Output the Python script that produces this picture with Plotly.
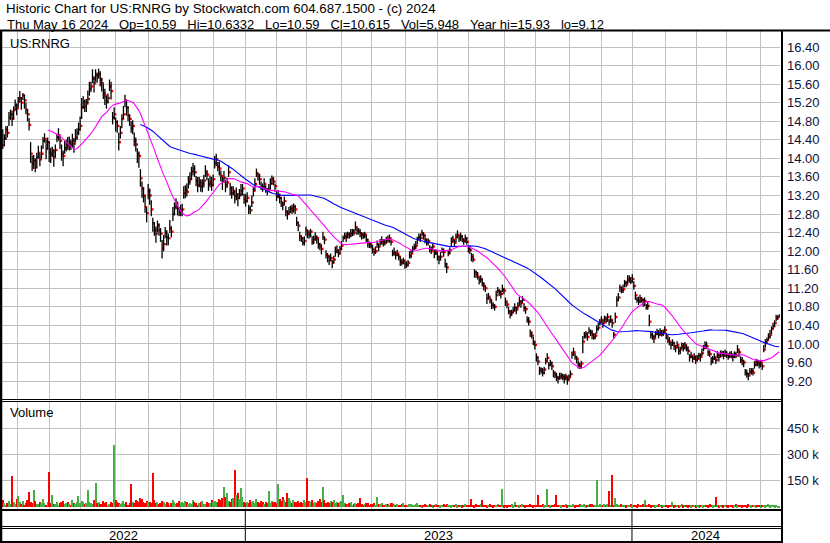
import pandas as pd
import plotly.graph_objects as go

# ---------------- data (daily bars, 17 May 2022 - 16 May 2024) ----------------
close_2022 = [
    14.28, 14.42, 14.62, 14.55, 14.88, 14.95, 14.85, 15.04, 15.15, 15.08,
    15.22, 15.30, 15.20, 15.36, 15.25, 15.05, 14.95, 14.72, 14.10, 13.88, 13.95, 13.80, 14.02, 14.12, 13.98, 14.10, 14.38, 14.42, 14.20, 14.35, 14.12,
    14.08, 14.15, 14.02, 14.18, 14.45, 14.50, 14.38, 14.10, 14.05, 14.22, 14.30, 14.28, 14.35, 14.30, 14.38, 14.32, 14.45, 14.55, 14.62, 14.70,
    15.10, 15.22, 15.12, 15.18, 15.28, 15.50, 15.55, 15.72, 15.62, 15.80, 15.75, 15.82, 15.70, 15.62, 15.40, 15.35, 15.22, 15.30, 15.55, 15.45, 14.88, 14.95, 14.78,
    14.70, 14.35, 14.55, 14.85, 14.95, 15.25, 15.10, 14.92, 14.85, 14.65, 14.70, 14.38, 14.30, 14.10, 14.05, 13.57, 13.35, 13.20, 12.95, 12.82, 13.30,
    13.20, 12.90, 12.60, 12.45, 12.38, 12.56, 12.45, 12.38, 12.06, 12.15, 12.40, 12.30, 12.28, 12.49, 12.42, 12.80, 12.95, 13.02, 12.92, 12.85, 12.88,
    12.90, 13.25, 13.32, 13.28, 13.50, 13.55, 13.72, 13.78, 13.70, 13.52, 13.42, 13.48, 13.40, 13.45, 13.52, 13.70, 13.65, 13.45, 13.48, 13.42, 13.55,
    13.90, 13.98, 13.82, 13.78, 13.62, 13.50, 13.58, 13.42, 13.48, 13.70, 13.35, 13.25, 13.30, 13.18, 13.22, 13.15, 13.22, 13.30, 13.35, 13.12, 13.08,
]
close_2023 = [
    13.15, 12.92, 12.88, 13.05, 13.30, 13.45, 13.68, 13.62, 13.55, 13.40, 13.38, 13.45, 13.32, 13.30, 13.35, 13.45, 13.55, 13.50, 13.40, 13.18,
    13.22, 13.15, 13.05, 13.00, 13.08, 12.85, 12.80, 12.85, 12.92, 12.88, 12.95, 12.90, 12.62, 12.55, 12.32, 12.28, 12.18, 12.22, 12.45,
    12.38, 12.35, 12.42, 12.20, 12.25, 12.31, 12.28, 12.15, 12.10, 12.05, 12.30, 12.25, 11.92, 11.88, 11.80, 11.85, 11.75, 11.82, 11.98, 12.02, 11.95, 12.05, 12.12,
    12.28, 12.32, 12.30, 12.36, 12.33, 12.38, 12.42, 12.40, 12.52, 12.45, 12.42, 12.38, 12.35, 12.32, 12.36, 12.25, 12.18, 12.15, 12.12,
    12.05, 11.98, 12.00, 12.15, 12.10, 12.18, 12.22, 12.20, 12.18, 12.25, 12.24, 12.28, 12.20, 11.95, 11.98, 11.92, 11.95, 11.88, 11.78, 11.75, 11.80, 11.72,
    11.70, 11.75, 11.90, 11.95, 12.05, 12.08, 12.12, 12.25, 12.30, 12.28, 12.38, 12.35, 12.25, 12.18, 12.22, 12.05, 12.00, 12.10, 11.95, 11.98, 11.88,
    11.82, 11.88, 12.02, 11.98, 11.72, 11.65, 11.95, 12.02, 12.20, 12.25, 12.18, 12.30, 12.35, 12.28, 12.32, 12.25, 12.22, 12.28, 12.20, 12.05,
    12.02, 11.88, 11.82, 11.55, 11.50, 11.45, 11.38, 11.40, 11.30, 11.25, 11.20, 10.98, 11.02, 10.95, 10.85, 10.82, 10.80, 11.05, 11.15, 11.12, 11.08, 11.18, 11.15,
    10.92, 10.85, 10.70, 10.65, 10.68, 10.72, 10.78, 10.74, 10.82, 10.92, 10.88, 10.95, 10.78, 10.75, 10.52, 10.48, 10.25, 10.18, 10.05, 9.98,
    9.72, 9.62, 9.45, 9.42, 9.38, 9.45, 9.62, 9.70, 9.55, 9.58, 9.52, 9.38, 9.32, 9.28, 9.25, 9.30, 9.32, 9.28, 9.25, 9.30, 9.22, 9.28,
    9.35, 9.78, 9.82, 9.72, 9.68, 9.55, 9.52, 9.58, 10.05, 10.18, 10.22, 10.15, 10.28, 10.25, 10.20, 10.15, 10.18, 10.32, 10.35, 10.48, 10.52,
    10.45, 10.55, 10.50, 10.58, 10.48, 10.52, 10.45, 10.20, 10.58, 10.95, 11.00, 11.22, 11.15, 11.18, 11.32, 11.28, 11.38, 11.42, 11.35, 11.40,
]
close_2024 = [
    11.25, 11.05, 10.95, 10.92, 10.98, 10.95, 10.88, 10.92, 10.80, 10.82, 10.48, 10.20, 10.15, 10.12, 10.22, 10.25, 10.20, 10.28, 10.22, 10.25, 10.30,
    10.18, 10.08, 10.05, 9.98, 10.02, 9.95, 9.92, 9.98, 9.85, 9.88, 9.95, 9.92, 9.98, 9.90, 9.85, 9.72, 9.75, 9.68, 9.72, 9.65,
    9.68, 9.75, 9.72, 9.80, 9.92, 9.98, 9.95, 9.82, 9.78, 9.62, 9.68, 9.72, 9.65, 9.75, 9.72, 9.80, 9.78, 9.75, 9.82, 9.76,
    9.72, 9.78, 9.75, 9.72, 9.78, 9.75, 9.88, 9.82, 9.65, 9.62, 9.60, 9.38, 9.35, 9.32, 9.40, 9.42, 9.38, 9.55, 9.62, 9.58, 9.55, 9.60,
    9.52, 9.88, 10.02, 10.08, 10.15, 10.20, 10.32, 10.38, 10.45, 10.55, 10.58, 10.615,
]

# daily high above close, in cents
high_above_2022 = [
    35, 10, 8, 15, 12, 10, 18, 8, 12, 10,
    10, 15, 12, 5, 12, 15, 10, 15, 25, 18, 12, 20, 10, 15, 12, 18, 8, 12, 20, 10, 25,
    15, 10, 18, 12, 8, 15, 10, 20, 12, 15, 10, 18, 12, 10, 15, 12, 18, 10, 15, 20,
    20, 12, 15, 10, 18, 15, 10, 20, 15, 12, 10, 11, 18, 12, 20, 15, 12, 10, 15, 20, 12, 15, 10,
    12, 20, 15, 10, 18, 12, 15, 20, 10, 15, 12, 18, 15, 12, 10, 20, 15, 18, 25, 12, 15,
    15, 20, 12, 18, 15, 10, 15, 12, 18, 20, 12, 15, 10, 18, 12, 15, 10, 12, 15, 10, 12,
    12, 15, 10, 18, 12, 15, 10, 12, 15, 10, 18, 12, 15, 10, 12, 15, 10, 12, 15, 18, 10,
    15, 12, 10, 15, 12, 10, 15, 12, 10, 15, 12, 15, 10, 12, 15, 10, 12, 15, 10, 12, 15,
]
high_above_2023 = [
    12, 8, 10, 15, 8, 12, 10, 6, 12, 10, 8, 12, 10, 6, 10, 12, 8, 10, 6, 12,
    10, 8, 12, 6, 10, 12, 8, 10, 6, 12, 8, 10, 12, 8, 10, 6, 12, 10, 8,
    8, 10, 6, 12, 8, 10, 6, 12, 8, 10, 12, 6, 10, 8, 12, 10, 6, 8, 12, 10, 8, 6, 10,
    6, 8, 10, 6, 8, 10, 6, 8, 12, 6, 8, 10, 6, 8, 6, 10, 8, 6, 8,
    8, 6, 10, 8, 6, 8, 10, 6, 8, 6, 10, 8, 6, 8, 10, 6, 8, 6, 10, 8, 6, 8,
    8, 6, 10, 8, 6, 8, 10, 6, 8, 10, 8, 6, 10, 8, 6, 8, 10, 6, 8, 6, 10,
    8, 10, 6, 8, 12, 10, 8, 6, 10, 8, 6, 8, 10, 6, 8, 10, 6, 8, 10, 8,
    10, 8, 12, 6, 8, 10, 6, 8, 10, 8, 6, 10, 8, 6, 10, 8, 6, 10, 8, 6, 8, 10, 6,
    8, 6, 10, 8, 6, 8, 10, 6, 8, 10, 6, 8, 10, 6, 8, 10, 6, 8, 10, 8,
    8, 10, 6, 8, 10, 6, 8, 10, 6, 8, 10, 6, 8, 10, 6, 8, 6, 8, 10, 6, 8, 6,
    8, 6, 10, 8, 6, 10, 8, 6, 12, 8, 6, 10, 8, 6, 10, 8, 6, 8, 10, 6, 8,
    8, 6, 10, 8, 6, 10, 8, 6, 10, 8, 10, 6, 8, 10, 6, 8, 10, 6, 8, 10,
]
high_above_2024 = [
    10, 8, 6, 10, 8, 6, 10, 8, 6, 10, 15, 6, 10, 8, 6, 8, 10, 6, 8, 6, 8,
    6, 8, 10, 6, 8, 10, 6, 8, 10, 6, 8, 10, 6, 8, 10, 6, 8, 6, 8, 10,
    8, 6, 8, 10, 6, 8, 10, 6, 8, 10, 6, 8, 6, 10, 8, 6, 8, 10, 6, 8,
    8, 6, 10, 8, 6, 8, 10, 6, 8, 10, 6, 8, 10, 6, 8, 6, 10, 8, 6, 8, 10, 6,
    6, 10, 8, 6, 8, 10, 6, 8, 6, 8, 4, 1.8,
]
# daily low below close, in cents
low_below_2022 = [
    8, 15, 22, 10, 18, 12, 15, 20, 10, 15,
    12, 8, 15, 10, 18, 10, 15, 12, 20, 15, 18, 10, 22, 12, 15, 10, 18, 8, 22, 15, 20,
    18, 12, 20, 15, 10, 12, 18, 15, 22, 12, 15, 10, 18, 12, 15, 20, 10, 15, 12, 10,
    25, 15, 12, 18, 10, 15, 12, 10, 20, 15, 12, 10, 15, 18, 12, 20, 15, 12, 10, 18, 15, 12, 20,
    15, 18, 12, 20, 10, 15, 18, 12, 15, 10, 18, 12, 15, 20, 25, 18, 20, 15, 12, 20, 18,
    20, 15, 18, 12, 20, 15, 12, 18, 22, 15, 12, 18, 15, 10, 12, 15, 18, 12, 15, 10, 12,
    15, 12, 18, 10, 15, 12, 18, 15, 10, 12, 15, 10, 12, 18, 15, 10, 12, 15, 10, 12, 15,
    12, 15, 10, 15, 12, 18, 10, 15, 12, 10, 15, 12, 10, 15, 12, 18, 10, 12, 15, 10, 12,
]
low_below_2023 = [
    10, 12, 8, 10, 12, 15, 8, 10, 12, 8, 10, 12, 6, 10, 8, 12, 10, 8, 12, 10,
    8, 12, 10, 12, 8, 10, 12, 6, 10, 8, 12, 10, 8, 12, 10, 8, 6, 10, 12,
    10, 8, 12, 6, 10, 8, 12, 10, 8, 12, 6, 10, 8, 12, 10, 6, 12, 8, 10, 6, 8, 12, 10,
    8, 6, 10, 8, 6, 8, 10, 6, 8, 10, 6, 8, 10, 6, 8, 6, 10, 8, 6,
    10, 8, 6, 8, 10, 6, 8, 10, 6, 8, 6, 10, 8, 6, 8, 10, 6, 8, 10, 6, 8, 10,
    6, 8, 6, 10, 8, 6, 8, 10, 6, 8, 6, 10, 8, 6, 10, 8, 6, 8, 10, 6, 8,
    10, 8, 6, 10, 8, 12, 6, 8, 10, 6, 8, 10, 6, 8, 10, 6, 8, 10, 6, 8,
    8, 10, 6, 12, 8, 6, 10, 8, 6, 10, 8, 12, 6, 8, 10, 6, 8, 12, 6, 8, 10, 6, 8,
    10, 8, 6, 10, 8, 6, 8, 10, 6, 8, 10, 6, 8, 10, 6, 8, 10, 6, 8, 10,
    10, 8, 12, 6, 8, 10, 6, 8, 10, 6, 8, 10, 6, 8, 10, 6, 8, 6, 10, 8, 10, 6,
    6, 10, 8, 6, 10, 8, 6, 10, 25, 6, 10, 8, 6, 8, 10, 6, 8, 10, 6, 8, 6,
    10, 8, 6, 10, 8, 6, 10, 8, 12, 15, 8, 10, 6, 8, 10, 6, 8, 10, 6, 8,
]
low_below_2024 = [
    8, 10, 6, 8, 10, 6, 8, 10, 6, 8, 10, 8, 6, 10, 8, 6, 8, 10, 6, 8, 6,
    8, 6, 8, 10, 6, 8, 10, 6, 8, 10, 6, 8, 10, 6, 8, 10, 6, 8, 6, 8,
    6, 8, 10, 6, 8, 10, 6, 8, 6, 8, 10, 6, 8, 6, 10, 8, 6, 8, 10, 6,
    6, 8, 6, 10, 8, 6, 8, 10, 6, 8, 10, 6, 8, 10, 6, 8, 6, 8, 10, 6, 8, 10,
    8, 6, 10, 8, 6, 8, 10, 6, 8, 6, 6, 2.5,
]
# daily volume, thousands of shares
volume_2022 = [
    40, 22, 15, 25, 35, 18, 177, 30, 20, 45,
    63, 28, 20, 35, 15, 25, 40, 87, 30, 22, 100, 35, 20, 18, 30, 25, 45, 22, 15, 30, 200,
    25, 70, 18, 20, 30, 15, 22, 28, 35, 18, 25, 30, 20, 15, 40, 22, 18, 30, 63, 25,
    35, 28, 20, 25, 100, 30, 22, 18, 40, 137, 25, 30, 20, 18, 35, 22, 28, 15, 20, 30, 25, 353, 40,
    30, 22, 18, 25, 35, 20, 28, 15, 22, 131, 30, 25, 40, 35, 28, 50, 45, 30, 22, 35, 28,
    30, 25, 193, 40, 22, 30, 18, 25, 35, 28, 20, 30, 22, 15, 25, 40, 30, 18, 22, 35, 25,
    28, 22, 35, 30, 18, 25, 20, 40, 30, 22, 15, 25, 28, 35, 20, 18, 30, 22, 25, 40, 30,
    35, 28, 30, 45, 40, 50, 115, 60, 80, 35, 30, 45, 55, 211, 70, 80, 45, 110, 60, 30, 25,
]
volume_2023 = [
    30, 25, 40, 28, 35, 22, 45, 30, 25, 38, 28, 20, 30, 25, 95, 22, 35, 28, 30, 22,
    130, 45, 35, 60, 40, 30, 80, 50, 35, 25, 40, 30, 28, 35, 22, 30, 25, 40, 28,
    167, 35, 28, 40, 25, 30, 22, 35, 45, 30, 115, 40, 25, 30, 22, 35, 28, 40, 25, 30, 22, 28, 35,
    70, 25, 20, 18, 22, 30, 15, 20, 25, 18, 22, 50, 20, 15, 18, 22, 25, 15, 20,
    18, 22, 15, 60, 20, 18, 25, 15, 12, 20, 18, 15, 22, 25, 18, 15, 20, 12, 15, 18, 22, 15,
    15, 12, 18, 20, 15, 12, 18, 22, 15, 12, 10, 15, 18, 12, 15, 20, 12, 10, 15, 18, 12,
    12, 10, 15, 18, 12, 20, 15, 12, 10, 15, 12, 18, 10, 12, 15, 10, 12, 18, 15, 12,
    15, 47, 12, 10, 18, 15, 12, 20, 40, 15, 12, 10, 15, 18, 12, 10, 15, 12, 20, 15, 12, 103, 10,
    12, 10, 15, 12, 18, 10, 30, 12, 15, 10, 12, 18, 15, 10, 12, 15, 20, 12, 10, 15,
    12, 70, 15, 12, 18, 10, 15, 105, 12, 10, 15, 12, 18, 70, 15, 12, 10, 15, 12, 18, 10, 12,
    15, 12, 18, 10, 15, 12, 20, 15, 12, 18, 10, 15, 12, 18, 20, 15, 12, 154, 15, 20, 12,
    15, 18, 12, 20, 95, 15, 182, 12, 50, 18, 15, 12, 20, 15, 12, 10, 15, 12, 18, 10,
]
volume_2024 = [
    12, 15, 10, 18, 12, 15, 20, 40, 12, 15, 18, 10, 12, 15, 10, 12, 18, 15, 10, 12, 15,
    12, 10, 15, 12, 30, 10, 12, 15, 10, 12, 18, 10, 12, 15, 10, 12, 10, 15, 12, 10,
    12, 10, 15, 12, 10, 15, 12, 10, 18, 12, 10, 15, 60, 12, 10, 15, 12, 10, 12, 15,
    10, 12, 15, 10, 12, 18, 10, 12, 15, 10, 12, 15, 10, 18, 12, 10, 15, 12, 10, 15, 12, 10,
    12, 15, 10, 12, 18, 10, 12, 15, 10, 12, 8, 5.948,
]

price_ticks = [9.2, 9.6, 10.0, 10.4, 10.8, 11.2, 11.6, 12.0, 12.4, 12.8, 13.2, 13.6, 14.0, 14.4, 14.8, 15.2, 15.6, 16.0, 16.4]
volume_ticks = [150, 300, 450]
volume_tick_text = ["150 k", "300 k", "450 k"]
header_line1 = "Historic Chart for US:RNRG by Stockwatch.com 604.687.1500 - (c) 2024"
header_line2_fields = ["Thu May 16 2024", "Op=10.59", "Hi=10.6332", "Lo=10.59",
                       "Cl=10.615", "Vol=5,948", "Year hi=15.93", "lo=9.12"]
symbol_label = "US:RNRG"
nyse_holidays = ["2022-05-30", "2022-06-20", "2022-07-04", "2022-09-05", "2022-11-24", "2022-12-26",
                 "2023-01-02", "2023-01-16", "2023-02-20", "2023-04-07", "2023-05-29", "2023-06-19",
                 "2023-07-04", "2023-09-04", "2023-11-23", "2023-12-25",
                 "2024-01-01", "2024-01-15", "2024-02-19", "2024-03-29"]

# ---------------- assemble ----------------
close = close_2022 + close_2023 + close_2024
hi_off = high_above_2022 + high_above_2023 + high_above_2024
lo_off = low_below_2022 + low_below_2023 + low_below_2024
vol = volume_2022 + volume_2023 + volume_2024
n = min(len(close), len(hi_off), len(lo_off), len(vol))
close, hi_off, lo_off, vol = close[:n], hi_off[:n], lo_off[:n], vol[:n]
high = [c + h / 100 for c, h in zip(close, hi_off)]
low = [c - l / 100 for c, l in zip(close, lo_off)]
x = list(range(n))

days = pd.bdate_range("2022-05-17", "2024-12-31", freq="C", holidays=pd.to_datetime(nyse_holidays))[:n]
month_starts = [i for i in range(1, n) if days[i].month != days[i - 1].month]
year_starts = [i for i in range(1, n) if days[i].year != days[i - 1].year]

ma30 = pd.Series(close).rolling(30).mean()
ma90 = pd.Series(close).rolling(90).mean()

vcolors = []
for i in range(n):
    if i == 0 or close[i] < close[i - 1]:
        vcolors.append("#ff0000")
    elif close[i] > close[i - 1]:
        vcolors.append("#44b044")
    else:
        vcolors.append("#a0a0a0")

W, H = 830, 543
def py(p):
    return 1 - p / H
def pxx(p):
    return p / W

FONT = "Liberation Sans, Arial, sans-serif"
GRID = "#c0c0c0"
LABEL = "#10103a"

fig = go.Figure()

# close ticks first, high-low bars on top of them
fig.add_trace(go.Scatter(x=[v + 0.7 for v in x], y=close, mode="markers",
                         marker=dict(symbol="square", size=2.3, color="#ff0000", line=dict(width=0)),
                         hoverinfo="skip", xaxis="x", yaxis="y"))
seg_x, seg_y = [], []
for i in range(n):
    seg_x += [i, i, None]
    seg_y += [low[i], high[i], None]
fig.add_trace(go.Scatter(x=seg_x, y=seg_y, mode="lines", line=dict(color="black", width=1.3),
                         hoverinfo="skip", xaxis="x", yaxis="y"))
fig.add_trace(go.Scatter(x=x, y=ma90, mode="lines", line=dict(color="#0000ff", width=1.1),
                         hoverinfo="skip", xaxis="x", yaxis="y"))
fig.add_trace(go.Scatter(x=x, y=ma30, mode="lines", line=dict(color="#ff00ff", width=1.1),
                         hoverinfo="skip", xaxis="x", yaxis="y"))
fig.add_trace(go.Bar(x=x, y=vol, marker=dict(color=vcolors, line=dict(width=0)), width=0.75,
                     hoverinfo="skip", xaxis="x2", yaxis="y2"))

grid_x = [m - 0.8 for m in month_starts]
xdom = [pxx(2), pxx(780)]
common_x = dict(domain=xdom, range=[-0.5, n - 0.5], tickvals=grid_x, showticklabels=False,
                showgrid=True, gridcolor=GRID, gridwidth=1, zeroline=False, ticks="", showline=False,
                fixedrange=True)
fig.update_layout(
    width=W, height=H, margin=dict(l=0, r=0, t=0, b=0, pad=0),
    paper_bgcolor="white", plot_bgcolor="white", showlegend=False, bargap=0,
    font=dict(family=FONT, size=13, color="black"),
    xaxis=dict(anchor="y", **common_x),
    xaxis2=dict(anchor="y2", matches="x", **common_x),
    yaxis=dict(domain=[py(399), py(31)], range=[8.814, 16.745], side="right", anchor="x",
               tickvals=price_ticks, ticktext=[f"{v:.2f}" for v in price_ticks],
               showgrid=True, gridcolor=GRID, gridwidth=1, zeroline=False, ticks="",
               ticklabelstandoff=6, tickfont=dict(family=FONT, size=13, color=LABEL)),
    yaxis2=dict(domain=[py(509), py(402)], range=[-10, 600], side="right", anchor="x2",
                tickvals=volume_ticks, ticktext=volume_tick_text,
                showgrid=True, gridcolor=GRID, gridwidth=1, zeroline=False, ticks="",
                ticklabelstandoff=6, tickfont=dict(family=FONT, size=13, color=LABEL)),
)

shapes = []
def hline(ypix, x0=0, x1=783, w=1):
    shapes.append(dict(type="line", xref="paper", yref="paper", x0=pxx(x0), x1=pxx(x1),
                       y0=py(ypix), y1=py(ypix), line=dict(color="black", width=w)))
def vline(xpix, y0, y1, w=1):
    shapes.append(dict(type="line", xref="paper", yref="paper", x0=pxx(xpix), x1=pxx(xpix),
                       y0=py(y0), y1=py(y1), line=dict(color="black", width=w)))

hline(30.5, 0, 830, 2)
hline(399.5)
hline(401.5)
hline(510, w=2)
hline(526.5)
hline(528.5)
hline(542, w=2)
vline(1, 30, 543, 2.5)
vline(782, 30, 543, 2)
for ys in year_starts:
    shapes.append(dict(type="line", xref="x", yref="paper", x0=ys - 1.2, x1=ys - 1.2,
                       y0=py(510), y1=py(542), line=dict(color="black", width=1)))
fig.update_layout(shapes=shapes)

ann = []
def label(text, xp, yp, size=13, color="black"):
    ann.append(dict(text=text, x=pxx(xp), y=py(yp), xref="paper", yref="paper",
                    xanchor="left", yanchor="middle", showarrow=False,
                    font=dict(size=size, color=color)))

label(header_line1, 4, 9, size=13.33)
label("\u00a0\u00a0\u00a0".join(header_line2_fields), 5, 24, size=13)
label(symbol_label, 8, 43)
label("Volume", 8, 413)
bounds = [-0.5] + [ys - 1.2 for ys in year_starts] + [n - 0.5]
for k in range(len(bounds) - 1):
    ann.append(dict(text=str(days[0].year + k), x=(bounds[k] + bounds[k + 1]) / 2, y=py(535),
                    xref="x", yref="paper", xanchor="center", yanchor="middle", showarrow=False,
                    font=dict(size=13)))
fig.update_layout(annotations=ann)

fig.write_html("out.html", config={"displayModeBar": False},
               post_script="document.body.style.margin='0px';document.body.style.padding='0px';")
